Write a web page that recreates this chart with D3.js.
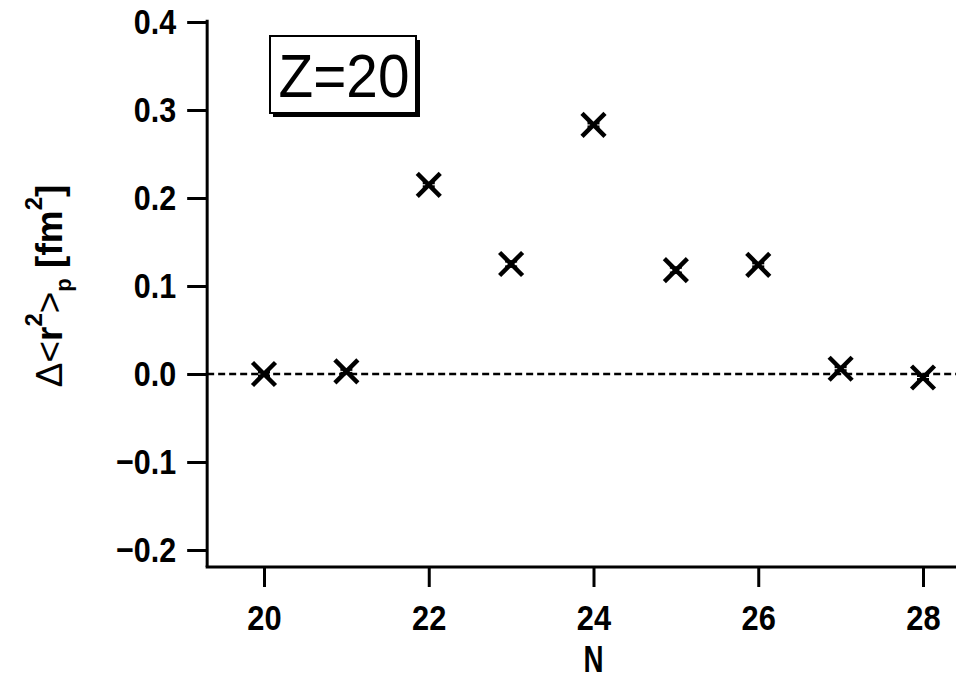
<!DOCTYPE html>
<html>
<meta charset="utf-8">
<title>Z=20</title>
<script src="https://d3js.org/d3.v7.min.js"></script>
<style>
  body { margin: 0; background: #fff; }
  text { font-family: "Liberation Sans", Arial, sans-serif; }
</style>
<body>
<script>
  var neutrons = [20, 21, 22, 23, 24, 25, 26, 27, 28];
  var deltaR2 = [0.000, 0.003, 0.215, 0.125, 0.283, 0.118, 0.124, 0.006, -0.004];
  var errors = [0.002, 0.002, 0.002, 0.003, 0.002, 0.003, 0.002, 0.002, 0.002];
  var xTicks = [20, 22, 24, 26, 28];
  var yTicks = [-0.2, -0.1, 0.0, 0.1, 0.2, 0.3, 0.4];

  var width = 956, height = 681;
  var svg = d3.select("body").append("svg").attr("width", width).attr("height", height);

  var xScale = d3.scaleLinear().domain([20, 28]).range([264, 923]);
  var yScale = d3.scaleLinear().domain([0, 0.4]).range([374, 22]);

  var x0 = xScale(19.31), x1 = width;
  var yBottom = yScale(-0.2193), yTop = yScale(0.4025);

  // squeeze text horizontally (reference font is a narrow face)
  function narrow(sel, k) {
    sel.each(function() {
      var w = this.getComputedTextLength();
      d3.select(this).attr("textLength", w * k).attr("lengthAdjust", "spacingAndGlyphs");
    });
  }

  // zero line
  svg.append("line")
    .attr("x1", x0).attr("x2", x1)
    .attr("y1", yScale(0)).attr("y2", yScale(0))
    .attr("stroke", "#000").attr("stroke-width", 2.5)
    .attr("stroke-dasharray", "7,4");

  // y axis
  var axisY = d3.axisLeft(yScale).tickValues(yTicks).tickSize(20).tickPadding(11)
    .tickFormat(function(d) { return d3.format(".1f")(d).replace("-", "\u2212"); });
  var gy = svg.append("g").attr("transform", "translate(" + x0 + ",0)").call(axisY);
  gy.select(".domain").remove();
  gy.append("line").attr("x1", 0).attr("x2", 0).attr("y1", yTop).attr("y2", yBottom)
    .attr("stroke", "#000").attr("stroke-width", 3);
  gy.selectAll(".tick line").attr("stroke-width", 3);
  gy.selectAll(".tick text").attr("font-size", 35).attr("font-weight", "bold").attr("fill", "#000")
    .attr("font-family", "Liberation Sans, Arial, sans-serif").call(narrow, 0.87);

  // x axis
  var axisX = d3.axisBottom(xScale).tickValues(xTicks).tickSize(20).tickPadding(18);
  var gx = svg.append("g").attr("transform", "translate(0," + yBottom + ")").call(axisX);
  gx.select(".domain").remove();
  gx.append("line").attr("x1", x0 - 1.5).attr("x2", x1).attr("y1", 0).attr("y2", 0)
    .attr("stroke", "#000").attr("stroke-width", 3);
  gx.selectAll(".tick line").attr("stroke-width", 3);
  gx.selectAll(".tick text").attr("font-size", 35).attr("font-weight", "bold").attr("fill", "#000")
    .attr("font-family", "Liberation Sans, Arial, sans-serif").call(narrow, 0.88);

  // axis titles
  svg.append("text")
    .attr("x", xScale(24)).attr("y", 672)
    .attr("text-anchor", "middle")
    .attr("font-size", 37).attr("font-weight", "bold")
    .text("N").call(narrow, 0.75);

  var yl = svg.append("text")
    .attr("transform", "translate(62,286) rotate(-90)")
    .attr("text-anchor", "middle")
    .attr("font-size", 37).attr("font-weight", "bold");
  yl.append("tspan").attr("font-weight", "normal").text("\u0394<");
  yl.append("tspan").text("r");
  yl.append("tspan").attr("dy", -20).attr("font-size", 24).text("2");
  yl.append("tspan").attr("dy", 20).attr("font-weight", "normal").text(">");
  yl.append("tspan").attr("dy", 9).attr("font-size", 22).text("p");
  yl.append("tspan").attr("dy", -9).text(" [fm");
  yl.append("tspan").attr("dy", -20).attr("font-size", 24).text("2");
  yl.append("tspan").attr("dy", 20).text("]");

  // label box with drop shadow
  svg.append("rect").attr("x", 273).attr("y", 40).attr("width", 147).attr("height", 77).attr("fill", "#000");
  svg.append("rect").attr("x", 270).attr("y", 36).attr("width", 146).attr("height", 77)
    .attr("fill", "#fff").attr("stroke", "#000").attr("stroke-width", 2);
  svg.append("text")
    .attr("x", 344).attr("y", 97)
    .attr("text-anchor", "middle")
    .attr("font-size", 61)
    .text("Z=20").call(narrow, 0.93);

  // data points: x markers with small error bars
  var pts = neutrons.map(function(n, i) { return { n: n, v: deltaR2[i], e: errors[i] }; });
  var g = svg.append("g").attr("stroke", "#000").attr("stroke-width", 4.5);
  var s = 11.5;
  pts.forEach(function(d) {
    var cx = xScale(d.n), cy = yScale(d.v);
    g.append("line").attr("x1", cx - s).attr("y1", cy - s).attr("x2", cx + s).attr("y2", cy + s);
    g.append("line").attr("x1", cx - s).attr("y1", cy + s).attr("x2", cx + s).attr("y2", cy - s);
    g.append("line").attr("x1", cx).attr("x2", cx).attr("y1", yScale(d.v - d.e)).attr("y2", yScale(d.v + d.e)).attr("stroke-width", 2);
    [d.v - d.e, d.v + d.e].forEach(function(y) {
      g.append("line").attr("x1", cx - 6).attr("x2", cx + 6).attr("y1", yScale(y)).attr("y2", yScale(y)).attr("stroke-width", 2.5);
    });
  });
</script>
</body>
</html>
